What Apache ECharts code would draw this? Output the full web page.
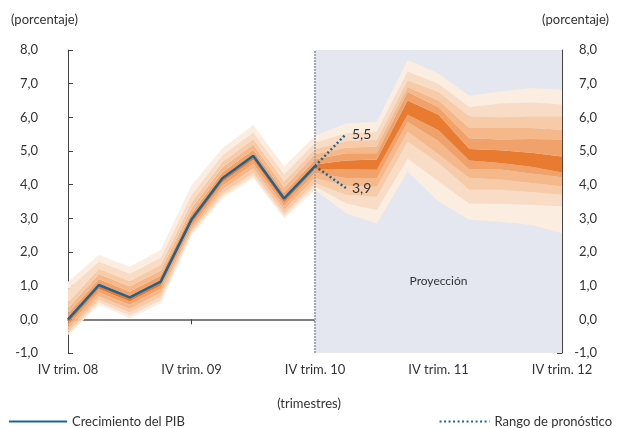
<!DOCTYPE html>
<html>
<head>
<meta charset="utf-8">
<script src="https://cdn.jsdelivr.net/npm/echarts@6/dist/echarts.min.js"></script>
<style>
  html, body { margin: 0; padding: 0; background: #fff; }
  #grafico { width: 618px; height: 428px; }
</style>
</head>
<body>
<div id="grafico"></div>
<script>
// trimestres IV 08 .. IV 12
var trimestres = ['IV trim. 08', 'I trim. 09', 'II trim. 09', 'III trim. 09', 'IV trim. 09',
    'I trim. 10', 'II trim. 10', 'III trim. 10', 'IV trim. 10',
    'I trim. 11', 'II trim. 11', 'III trim. 11', 'IV trim. 11',
    'I trim. 12', 'II trim. 12', 'III trim. 12', 'IV trim. 12'];

// crecimiento del PIB (observado)
var pib = [0.0, 1.02, 0.65, 1.12, 2.97, 4.19, 4.86, 3.59, 4.55];

// rango de pronostico (desde IV trim. 10)
var rangoSup = [4.55, 5.5];
var rangoInf = [4.55, 3.9];

// bordes del abanico, de afuera (u1) hacia el centro y de nuevo afuera (l1)
var u1 = [1.12, 1.91, 1.56, 2.06, 3.98, 5.08, 5.77, 4.54, 5.45, 5.82, 5.87, 7.70, 7.30, 6.64, 6.77, 6.87, 6.82];
var u2 = [0.90, 1.72, 1.36, 1.84, 3.70, 4.88, 5.56, 4.32, 5.25, 5.53, 5.58, 7.36, 7.00, 6.31, 6.41, 6.45, 6.38];
var u3 = [0.50, 1.50, 1.14, 1.62, 3.48, 4.68, 5.36, 4.10, 5.05, 5.30, 5.33, 7.10, 6.75, 6.03, 6.00, 6.03, 6.03];
var u4 = [0.33, 1.35, 0.98, 1.45, 3.30, 4.52, 5.19, 3.92, 4.90, 5.10, 5.13, 6.90, 6.50, 5.68, 5.68, 5.68, 5.63];
var u5 = [0.18, 1.20, 0.83, 1.30, 3.15, 4.37, 5.04, 3.77, 4.75, 4.93, 4.93, 6.75, 6.30, 5.38, 5.34, 5.36, 5.34];
var ct = [0.04, 1.06, 0.69, 1.16, 3.01, 4.23, 4.90, 3.63, 4.60, 4.72, 4.75, 6.50, 6.08, 5.06, 5.02, 4.95, 4.84];
var cb = [-0.12, 0.90, 0.53, 1.00, 2.85, 4.07, 4.74, 3.47, 4.45, 4.45, 4.44, 6.08, 5.62, 4.72, 4.64, 4.53, 4.36];
var l5 = [-0.20, 0.80, 0.43, 0.90, 2.75, 3.97, 4.62, 3.37, 4.35, 4.20, 4.19, 5.87, 5.29, 4.45, 4.45, 4.33, 4.22];
var l4 = [-0.30, 0.68, 0.31, 0.78, 2.66, 3.85, 4.48, 3.25, 4.20, 3.97, 3.94, 5.58, 4.90, 4.20, 4.15, 4.05, 3.95];
var l3 = [-0.38, 0.58, 0.20, 0.66, 2.60, 3.74, 4.35, 3.14, 4.05, 3.70, 3.64, 5.28, 4.64, 3.85, 3.85, 3.78, 3.70];
var l2 = [-0.43, 0.50, 0.11, 0.56, 2.55, 3.66, 4.26, 3.06, 3.95, 3.45, 3.25, 4.78, 4.10, 3.44, 3.43, 3.40, 3.36];
var l1 = [-0.47, 0.43, 0.03, 0.48, 2.50, 3.60, 4.19, 3.00, 3.85, 3.15, 2.85, 4.38, 3.50, 2.96, 2.90, 2.80, 2.56];

var fuente = 'Lato';
var colTexto = '#333';
var azul = '#1f6391';

// padding con null
function rellenar(arr, inicio) {
    var out = [];
    for (var i = 0; i < trimestres.length; i++) {
        var j = i - inicio;
        out.push(j >= 0 && j < arr.length ? arr[j] : null);
    }
    return out;
}

function dif(a, b) {
    return a.map(function (v, i) { return +(v - b[i]).toFixed(3); });
}

// bandas: [borde superior, borde inferior, color]
var bandas = [
    [l2, l1, '#fcede1'],
    [l3, l2, '#f9dcc5'],
    [l4, l3, '#f7cba8'],
    [l5, l4, '#f4b88b'],
    [cb, l5, '#f0a26a'],
    [ct, cb, '#e97b30'],
    [u5, ct, '#f0a26a'],
    [u4, u5, '#f4b88b'],
    [u3, u4, '#f7cba8'],
    [u2, u3, '#f9dcc5'],
    [u1, u2, '#fcede1']
];

var myChart = echarts.init(document.getElementById('grafico'), null, {renderer: 'canvas'});

var series = [];

// sombreado de proyeccion
series.push({
    name: 'proy',
    type: 'line',
    data: [],
    z: 0,
    silent: true,
    markArea: {
        silent: true,
        itemStyle: {color: '#e4e7ef'},
        label: {
            show: true,
            position: 'inside',
            offset: [0, 80],
            formatter: 'Proyección',
            color: colTexto,
            fontFamily: fuente,
            fontSize: 12
        },
        data: [[{xAxis: trimestres[8], yAxis: -1}, {xAxis: trimestres[16], yAxis: 8}]]
    },
    markLine: {
        silent: true,
        symbol: 'none',
        label: {show: false},
        lineStyle: {color: '#a8a8a8', type: [2, 1], width: 2},
        data: [[{xAxis: trimestres[8], yAxis: -1}, {xAxis: trimestres[8], yAxis: 8}]]
    }
});

// base del abanico
series.push({
    name: 'base',
    type: 'line',
    stack: 'abanico',
    stackStrategy: 'all',
    data: l1,
    symbol: 'none',
    lineStyle: {width: 0},
    silent: true,
    z: 2
});

bandas.forEach(function (b, i) {
    series.push({
        name: 'banda' + i,
        type: 'line',
        stack: 'abanico',
        stackStrategy: 'all',
        data: dif(b[0], b[1]),
        symbol: 'none',
        lineStyle: {width: 0},
        areaStyle: {color: b[2], opacity: 1},
        silent: true,
        z: 2
    });
});

series.push({
    name: 'Crecimiento del PIB',
    type: 'line',
    data: rellenar(pib, 0),
    symbol: 'none',
    lineStyle: {color: azul, width: 2.5},
    itemStyle: {color: azul},
    z: 5
});

var etiquetaFin = {
    show: true,
    formatter: function (p) { return p.value.toFixed(1).replace('.', ','); },
    color: colTexto,
    fontFamily: fuente,
    fontSize: 14,
    distance: 6
};

series.push({
    name: 'Rango de pronóstico',
    type: 'line',
    data: rellenar(rangoSup, 8),
    symbol: 'none',
    lineStyle: {color: azul, width: 2.5, type: [2, 2.5]},
    itemStyle: {color: azul},
    endLabel: etiquetaFin,
    z: 5
});

series.push({
    name: 'Rango de pronóstico',
    type: 'line',
    data: rellenar(rangoInf, 8),
    symbol: 'none',
    lineStyle: {color: azul, width: 2.5, type: [2, 2.5]},
    itemStyle: {color: azul},
    endLabel: etiquetaFin,
    z: 5
});

var ejeY = function (pos) {
    return {
        type: 'value',
        position: pos,
        min: -1,
        max: 8,
        interval: 1,
        axisLine: {show: true, lineStyle: {color: '#444', width: 1}},
        axisTick: {show: true, inside: true, length: 5, lineStyle: {color: '#444'}},
        splitLine: {show: false},
        axisLabel: {
            color: colTexto,
            fontFamily: fuente,
            fontSize: 13,
            align: 'right',
            margin: pos === 'left' ? 30 : 35,
            formatter: function (v) { return v.toFixed(1).replace('.', ','); }
        }
    };
};

var leyendaBase = {
    top: 415,
    padding: 0,
    itemHeight: 4,
    itemStyle: {opacity: 0},
    textStyle: {fontSize: 13, color: colTexto, fontFamily: fuente}
};

var option = {
    animation: false,
    backgroundColor: '#fff',
    textStyle: {fontFamily: fuente},
    grid: {left: 68, right: 56, top: 50, bottom: 75, containLabel: false},
    title: [
        {text: '(porcentaje)', left: 6, top: 8, textStyle: {fontSize: 13, fontWeight: 'normal', color: colTexto, fontFamily: fuente}},
        {text: '(porcentaje)', right: 4, top: 8, textStyle: {fontSize: 13, fontWeight: 'normal', color: colTexto, fontFamily: fuente}},
        {text: '(trimestres)', left: 'center', top: 392, textStyle: {fontSize: 13, fontWeight: 'normal', color: colTexto, fontFamily: fuente}}
    ],
    legend: [
        Object.assign({}, leyendaBase, {
            data: ['Crecimiento del PIB'],
            left: 8,
            itemWidth: 58,
            itemGap: 8
        }),
        Object.assign({}, leyendaBase, {
            data: ['Rango de pronóstico'],
            right: 6,
            itemWidth: 50
        })
    ],
    xAxis: {
        type: 'category',
        data: trimestres,
        boundaryGap: false,
        axisLine: {onZero: true, lineStyle: {color: '#555', width: 1.5}},
        axisTick: {show: true, interval: 3, length: 5, lineStyle: {color: '#444'}},
        axisLabel: {
            interval: 3,
            margin: 10,
            color: colTexto,
            fontFamily: fuente,
            fontSize: 13
        },
        splitLine: {show: false}
    },
    yAxis: [ejeY('left'), ejeY('right')],
    series: series
};

myChart.setOption(option);
</script>
</body>
</html>
